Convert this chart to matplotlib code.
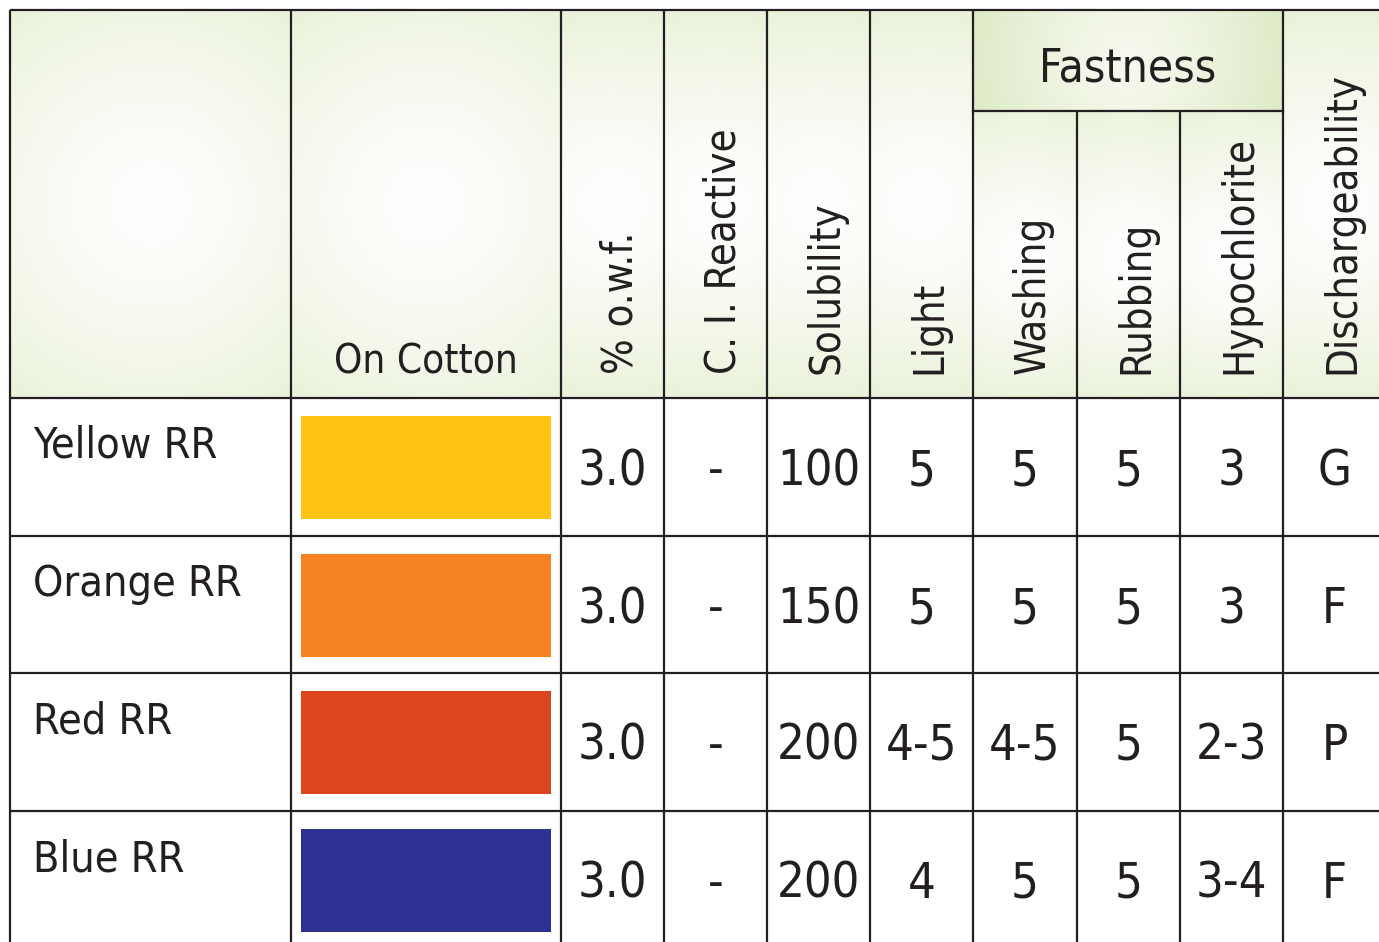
import numpy as np
import matplotlib
matplotlib.use('Agg')
import matplotlib.pyplot as plt
from matplotlib.patches import Rectangle

# table contents
dyes = ['Yellow RR', 'Orange RR', 'Red RR', 'Blue RR']
cotton_colors = ['#ffc312', '#f58220', '#db461e', '#2e3192']
owf = ['3.0', '3.0', '3.0', '3.0']
ci_reactive = ['-', '-', '-', '-']
solubility = ['100', '150', '200', '200']
light = ['5', '5', '4-5', '4']
washing = ['5', '5', '4-5', '5']
rubbing = ['5', '5', '5', '5']
hypochlorite = ['3', '3', '2-3', '3-4']
dischargeability = ['G', 'F', 'P', 'F']

col_headers = ['% o.w.f.', 'C. I. Reactive', 'Solubility', 'Light',
               'Washing', 'Rubbing', 'Hypochlorite', 'Dischargeability']
value_cols = [owf, ci_reactive, solubility, light,
              washing, rubbing, hypochlorite, dischargeability]
group_label = 'Fastness'
cotton_label = 'On Cotton'

# layout (pixels)
W, H = 1379, 942
xs = [10, 291, 561, 664, 767, 870, 973, 1077, 1180, 1283, 1386]
ys = [10, 398, 536, 673, 811, 948]
fast_y = 111
line_c = '#231f20'
txt_c = '#231f20'
font = dict(family='DejaVu Sans', stretch='condensed')

fig = plt.figure(figsize=(W / 100, H / 100), dpi=100)
ax = fig.add_axes([0, 0, 1, 1])
ax.set_xlim(0, W)
ax.set_ylim(H, 0)
ax.axis('off')


def gradient(x0, x1, y0, y1, edge, center=(1, 1, 1)):
    # radial fill, white in the middle, tinted towards the corners
    w, h = x1 - x0, y1 - y0
    px, py = np.meshgrid(np.linspace(-w / 2, w / 2, 150),
                         np.linspace(-h / 2, h / 2, 150))
    r = 0.5 * np.hypot(w, h)
    d = np.clip(np.hypot(px, py) / r, 0, 1) ** 1.3
    d = d[..., None]
    img = np.array(center) * (1 - d) + np.array(edge) * d
    ax.imshow(img, extent=(x0, x1, y1, y0), aspect='auto', zorder=0,
              interpolation='bilinear')


edge_c = (234 / 255, 242 / 255, 218 / 255)
# header cells
gradient(xs[0], xs[1], ys[0], ys[1], edge_c)
gradient(xs[1], xs[2], ys[0], ys[1], edge_c)
for i in range(2, 10):
    if 6 <= i <= 8:
        gradient(xs[i], xs[i + 1], fast_y, ys[1], edge_c)
    else:
        gradient(xs[i], xs[i + 1], ys[0], ys[1], edge_c)
gradient(xs[6], xs[9], ys[0], fast_y, (222 / 255, 234 / 255, 198 / 255),
         center=(246 / 255, 249 / 255, 238 / 255))

# header text
ax.text((xs[1] + xs[2]) / 2, 374, cotton_label, ha='center', va='baseline',
        fontsize=29, color=txt_c, **font)
ax.text((xs[6] + xs[9]) / 2, 82, group_label, ha='center', va='baseline',
        fontsize=33, color=txt_c, **font)
for i, lab in enumerate(col_headers):
    cx = (xs[i + 2] + xs[i + 3]) / 2
    ax.text(cx + 20, 374, lab, rotation=90, rotation_mode='anchor',
            ha='left', va='baseline', fontsize=30, color=txt_c, **font)

# body
for r, dye in enumerate(dyes):
    top = ys[r + 1]
    ax.text(33, top + 60, dye, ha='left', va='baseline', fontsize=31,
            color=txt_c, **font)
    ax.add_patch(Rectangle((301, top + 18), 250, 103,
                           facecolor=cotton_colors[r], edgecolor='none'))
    for c, vals in enumerate(value_cols):
        cx = (xs[c + 2] + xs[c + 3]) / 2
        ax.text(cx, top + 87, vals[r], ha='center', va='baseline',
                fontsize=35, color=txt_c, **font)

# grid lines
lw = 1.6
for y in ys[:-1]:
    ax.plot([xs[0], W], [y, y], color=line_c, lw=lw, solid_capstyle='butt')
ax.plot([xs[6], xs[9]], [fast_y, fast_y], color=line_c, lw=lw)
for i, x in enumerate(xs[:-1]):
    y0 = fast_y if i in (7, 8) else ys[0]
    ax.plot([x, x], [y0, H], color=line_c, lw=lw, solid_capstyle='butt')

fig.savefig('out.png', dpi=100)
